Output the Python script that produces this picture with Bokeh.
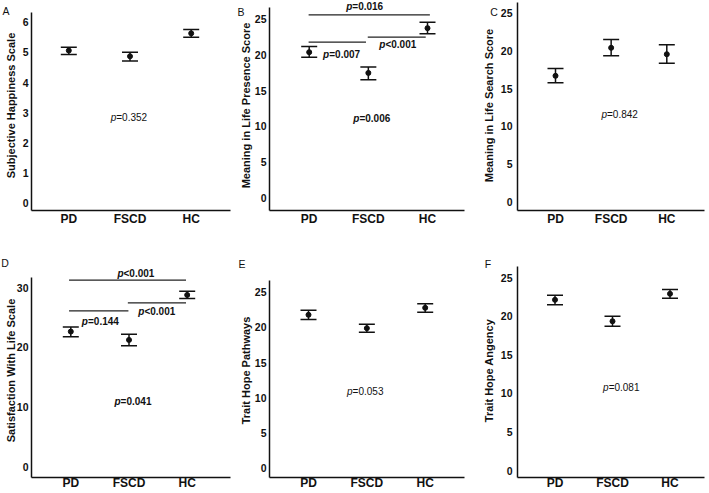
from bokeh.plotting import figure
from bokeh.models import (ColumnDataSource, Whisker, TeeHead, Range1d, FixedTicker,
                          SingleIntervalTicker, Label)
from bokeh.layouts import column, row
from bokeh.embed import file_html
from bokeh.resources import INLINE
from bokeh.core.properties import value

FONT = "Liberation Sans"

groups = ["PD", "FSCD", "HC"]
group_pos = [1, 2, 3]

# A: Subjective Happiness Scale
shs_mean = [5.06, 4.87, 5.63]
shs_lower = [4.93, 4.71, 5.50]
shs_upper = [5.17, 5.00, 5.76]
shs_p = ["=0.352"]
shs_p_x = [1.98]
shs_p_y = [2.83]

# B: Meaning in Life Presence Score
mlp_mean = [20.35, 17.46, 23.70]
mlp_lower = [19.65, 16.50, 22.90]
mlp_upper = [21.14, 18.30, 24.53]
mlp_p = ["=0.006"]
mlp_p_x = [2.06]
mlp_p_y = [11.15]
mlp_br_from = [0.99, 0.99, 1.99]
mlp_br_to = [3.04, 1.96, 2.97]
mlp_br_y = [25.56, 21.74, 22.44]
mlp_br_p = ["=0.016", "=0.007", "<0.001"]
mlp_br_p_x = [1.94, 1.55, 2.50]
mlp_br_p_y = [26.67, 20.03, 21.42]

# C: Meaning in Life Search Score
mls_mean = [16.69, 20.41, 19.56]
mls_lower = [15.76, 19.35, 18.37]
mls_upper = [17.66, 21.51, 20.81]
mls_p = ["=0.842"]
mls_p_x = [2.15]
mls_p_y = [11.6]

# D: Satisfaction With Life Scale
swls_mean = [22.65, 21.25, 28.80]
swls_lower = [21.80, 20.25, 28.20]
swls_upper = [23.40, 22.20, 29.40]
swls_p = ["=0.041"]
swls_p_x = [2.07]
swls_p_y = [10.96]
swls_br_from = [0.97, 0.97, 1.98]
swls_br_to = [2.98, 1.99, 2.98]
swls_br_y = [31.27, 26.13, 27.48]
swls_br_p = ["<0.001", "=0.144", "<0.001"]
swls_br_p_x = [2.12, 1.51, 2.48]
swls_br_p_y = [32.45, 24.40, 26.02]

# E: Trait Hope Pathways
thp_mean = [21.79, 19.89, 22.78]
thp_lower = [21.12, 19.32, 22.16]
thp_upper = [22.44, 20.45, 23.35]
thp_p = ["=0.053"]
thp_p_x = [1.97]
thp_p_y = [10.9]

# F: Trait Hope Angency
tha_mean = [22.14, 19.36, 22.92]
tha_lower = [21.49, 18.71, 22.35]
tha_upper = [22.74, 20.01, 23.48]
tha_p = ["=0.081"]
tha_p_x = [2.15]
tha_p_y = [10.8]

# ---- layout (pixels): columns share left/right borders, rows share top/bottom
COL_W = [236, 236, 237]
COL_L = [31, 33, 45]
COL_R = [6, 8, 5]
ROW_H = [245, 248]
ROW_T = [0, 18]
ROW_B = [35, 16]


def add_p_text(p, xs, ys, texts, bold):
    src = ColumnDataSource(dict(x=xs, y=ys, t=texts, pp=["p"] * len(xs)))
    style = "bold" if bold else "normal"
    pstyle = "bold italic" if bold else "italic"
    p.text(x="x", y="y", text="pp", source=src, text_font=value(FONT),
           text_font_size="10px", text_font_style=pstyle, text_align="right",
           text_baseline="middle", x_offset=-12.5, text_color="#111111")
    p.text(x="x", y="y", text="t", source=src, text_font=value(FONT),
           text_font_size="10px", text_font_style=style, text_align="left",
           text_baseline="middle", x_offset=-12.5, text_color="#111111")


def panel(r, c, letter, letter_xy, ylabel, mean, lower, upper, step, geo,
          p_txt, p_x, p_y, p_bold, br=None):
    # geo: PD px, HC px, y-of-zero px, px per unit, axis top px, y std, label std, x std
    (pd_px, hc_px, y0, ppu, ytop, ystand, lstand, xstand) = geo
    W, L, R = COL_W[c], COL_L[c], COL_R[c]
    H, T, Bb = ROW_H[r], ROW_T[r], ROW_B[r]
    ppx = (hc_px - pd_px) / 2.0
    x0 = 1 - (pd_px - L) / ppx
    x1 = 1 + (W - R - pd_px) / ppx
    ybot = H - Bb
    yr = Range1d((y0 - ybot) / ppu, (y0 - T) / ppu)
    p = figure(width=W, height=H, x_range=Range1d(x0, x1), y_range=yr,
               output_backend="svg", toolbar_location=None,
               min_border_left=L, min_border_right=R, min_border_top=T,
               min_border_bottom=Bb)
    p.outline_line_color = None
    p.grid.visible = False
    p.background_fill_color = "white"
    p.border_fill_color = "white"

    for ax in (p.xaxis[0], p.yaxis[0]):
        ax.axis_line_width = 1.5
        ax.axis_line_color = "#111111"
        ax.major_tick_out = 0
        ax.major_tick_in = 0
        ax.minor_tick_out = 0
        ax.minor_tick_in = 0
        ax.major_tick_line_color = None
        ax.minor_tick_line_color = None
        ax.major_label_text_font = FONT
        ax.major_label_text_font_style = "bold"
        ax.major_label_text_color = "#111111"

    xa = p.xaxis[0]
    xa.ticker = FixedTicker(ticks=group_pos)
    xa.major_label_overrides = {pos: g for pos, g in zip(group_pos, groups)}
    xa.major_label_text_font_size = "12px"
    xa.major_label_standoff = xstand

    ya = p.yaxis[0]
    ya.ticker = SingleIntervalTicker(interval=step)
    ya.bounds = (yr.start, (y0 - ytop) / ppu)
    ya.major_label_text_font_size = "10.5px"
    ya.major_label_standoff = ystand
    ya.axis_label = ylabel
    ya.axis_label_text_font = FONT
    ya.axis_label_text_font_style = "bold"
    ya.axis_label_text_font_size = "11px"
    ya.axis_label_text_color = "#111111"
    ya.axis_label_standoff = lstand

    if br is not None:
        bx0, bx1, by, btxt, btx, bty = br
        p.segment(x0=bx0, x1=bx1, y0=by, y1=by, line_color="#222222", line_width=1.2)
        add_p_text(p, btx, bty, btxt, True)

    src = ColumnDataSource(dict(x=group_pos, m=mean, lo=lower, hi=upper))
    wh = Whisker(source=src, base="x", lower="lo", upper="hi", dimension="height",
                 line_width=1.5, line_color="#111111",
                 upper_head=TeeHead(size=16, line_width=1.5, line_color="#111111"),
                 lower_head=TeeHead(size=16, line_width=1.5, line_color="#111111"))
    p.add_layout(wh)
    p.scatter(x="x", y="m", source=src, size=5, color="#111111")

    add_p_text(p, p_x, p_y, p_txt, p_bold)

    # panel letter: placed through the plot's own scales, hosted in a side panel
    lx, ly = letter_xy
    p.add_layout(Label(x=x0 + (lx - L) / ppx, y=(y0 - ly) / ppu,
                       x_units="data", y_units="data",
                       text=letter, text_font=FONT, text_font_size="10.5px",
                       text_align="center", text_baseline="middle",
                       text_color="#111111"), "below" if r == 0 else "above")
    return p


pA = panel(0, 0, "A", (5.5, 10.5), "Subjective Happiness Scale", shs_mean, shs_lower, shs_upper, 1,
           (68.3, 190.7, 202.7, 30.17, 11.7, 3, 3, 1),
           shs_p, shs_p_x, shs_p_y, False)
pB = panel(0, 1, "B", (4.5, 11), "Meaning in Life Presence Score", mlp_mean, mlp_lower, mlp_upper, 5,
           (72.7, 191.0, 197.7, 7.176, 6.7, 3, 0, 1),
           mlp_p, mlp_p_x, mlp_p_y, True,
           (mlp_br_from, mlp_br_to, mlp_br_y, mlp_br_p, mlp_br_p_x, mlp_br_p_y))
pC = panel(0, 2, "C", (21.5, 11.5), "Meaning in Life Search Score", mls_mean, mls_lower, mls_upper, 5,
           (83.0, 194.3, 201.0, 7.53, 1.7, 5, 3, 1),
           mls_p, mls_p_x, mls_p_y, False)
pD = panel(1, 0, "D", (4.5, 17), "Satisfaction With Life Scale", swls_mean, swls_lower, swls_upper, 10,
           (70.3, 186.7, 221.0, 5.957, 31.7, 3, -3, -2),
           swls_p, swls_p_x, swls_p_y, True,
           (swls_br_from, swls_br_to, swls_br_y, swls_br_p, swls_br_p_x, swls_br_p_y))
pE = panel(1, 1, "E", (5.5, 18), "Trait Hope Pathways", thp_mean, thp_lower, thp_upper, 5,
           (72.0, 188.7, 222.7, 7.04, 35.0, 3, 0, -2),
           thp_p, thp_p_x, thp_p_y, False)
pF = panel(1, 2, "F", (15.5, 18), "Trait Hope Angency", tha_mean, tha_lower, tha_upper, 5,
           (82.5, 197.5, 225.0, 7.71, 20.7, 5, 3, -2),
           tha_p, tha_p_x, tha_p_y, False)

layout = column(row(pA, pB, pC, spacing=0), row(pD, pE, pF, spacing=0), spacing=0)
open("out.html", "w").write(file_html(layout, INLINE))
